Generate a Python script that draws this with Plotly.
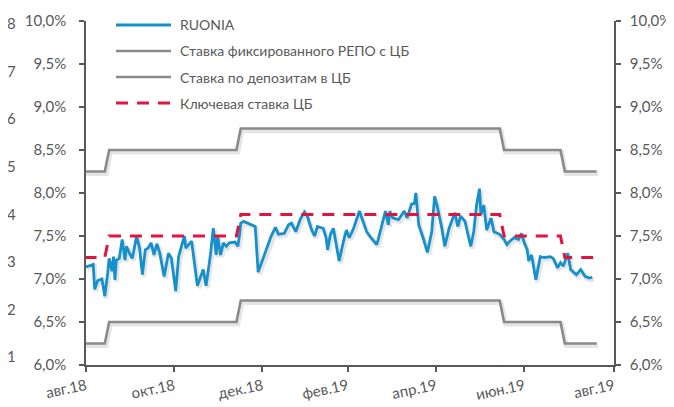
import pandas as pd
import plotly.graph_objects as go

# ---------------- data ----------------
RUONIA_DATES = [
    "2018-09-01", "2018-09-06", "2018-09-07", "2018-09-09", "2018-09-12", "2018-09-14", "2018-09-16",
    "2018-09-17", "2018-09-19", "2018-09-20", "2018-09-21", "2018-09-22", "2018-09-24", "2018-09-26",
    "2018-09-28", "2018-09-29", "2018-10-01", "2018-10-03", "2018-10-06", "2018-10-08", "2018-10-10",
    "2018-10-12", "2018-10-14", "2018-10-16", "2018-10-18", "2018-10-20", "2018-10-22", "2018-10-25",
    "2018-10-28", "2018-10-30", "2018-11-02", "2018-11-04", "2018-11-08", "2018-11-09", "2018-11-13",
    "2018-11-17", "2018-11-21", "2018-11-23", "2018-11-26", "2018-11-28", "2018-11-30", "2018-12-01",
    "2018-12-03", "2018-12-05", "2018-12-07", "2018-12-09", "2018-12-13", "2018-12-15", "2018-12-16",
    "2018-12-17", "2018-12-19", "2018-12-24", "2018-12-27", "2018-12-29", "2019-01-03", "2019-01-07",
    "2019-01-10", "2019-01-12", "2019-01-16", "2019-01-19", "2019-01-21", "2019-01-24", "2019-01-27",
    "2019-01-30", "2019-02-01", "2019-02-04", "2019-02-06", "2019-02-08", "2019-02-12", "2019-02-14",
    "2019-02-15", "2019-02-17", "2019-02-19", "2019-02-23", "2019-02-26", "2019-02-28", "2019-03-02",
    "2019-03-05", "2019-03-09", "2019-03-11", "2019-03-14", "2019-03-17", "2019-03-21", "2019-03-22",
    "2019-03-25", "2019-03-27", "2019-03-29", "2019-03-30", "2019-04-01", "2019-04-05", "2019-04-09",
    "2019-04-11", "2019-04-14", "2019-04-16", "2019-04-17", "2019-04-19", "2019-04-22", "2019-04-25",
    "2019-04-28", "2019-04-30", "2019-05-02", "2019-05-05", "2019-05-07", "2019-05-10", "2019-05-14",
    "2019-05-16", "2019-05-18", "2019-05-21", "2019-05-23", "2019-05-25", "2019-05-27", "2019-05-29",
    "2019-05-31", "2019-06-01", "2019-06-03", "2019-06-05", "2019-06-08", "2019-06-10", "2019-06-14",
    "2019-06-17", "2019-06-19", "2019-06-21", "2019-06-24", "2019-06-27", "2019-06-29", "2019-07-01",
    "2019-07-03", "2019-07-04", "2019-07-06", "2019-07-09", "2019-07-12", "2019-07-15", "2019-07-19",
    "2019-07-21", "2019-07-24", "2019-07-26", "2019-07-28", "2019-07-31", "2019-08-02", "2019-08-06",
    "2019-08-09", "2019-08-12", "2019-08-15", "2019-08-17",
]
RUONIA_VALUES = [
    7.14, 7.17, 6.88, 6.98, 7.00, 6.80, 7.07,
    7.24, 7.09, 7.26, 6.99, 7.22, 7.24, 7.46,
    7.22, 7.38, 7.30, 7.24, 7.50, 7.36, 7.05,
    7.34, 7.36, 7.42, 7.28, 7.41, 7.30, 7.03,
    7.30, 7.24, 6.86, 7.26, 7.50, 7.36, 7.44,
    6.92, 7.11, 6.92, 7.28, 7.59, 7.28, 7.50,
    7.28, 7.42, 7.38, 7.42, 7.43, 7.38, 7.50,
    7.65, 7.67, 7.63, 7.61, 7.08, 7.30, 7.50,
    7.60, 7.52, 7.53, 7.63, 7.65, 7.55, 7.69,
    7.78, 7.73, 7.57, 7.50, 7.61, 7.59, 7.48,
    7.34, 7.52, 7.59, 7.21, 7.44, 7.57, 7.48,
    7.59, 7.79, 7.69, 7.55, 7.48, 7.40, 7.46,
    7.67, 7.79, 7.63, 7.79, 7.71, 7.69, 7.79,
    7.71, 7.87, 7.88, 8.00, 7.63, 7.48, 7.31,
    7.55, 7.96, 7.83, 7.59, 7.38, 7.59, 7.77,
    7.61, 7.73, 7.67, 7.52, 7.38, 7.55, 7.86,
    8.05, 7.75, 7.86, 7.57, 7.71, 7.55, 7.52,
    7.46, 7.40, 7.44, 7.48, 7.46, 7.53, 7.42,
    7.34, 7.21, 7.28, 6.99, 7.26, 7.25, 7.26,
    7.24, 7.13, 7.19, 7.15, 7.30, 7.11, 7.05,
    7.11, 7.03, 7.01, 7.02,
]

# policy-rate schedule (effective dates of changes)
RATE_CHANGE_DATES = ["2018-07-30", "2018-09-17", "2018-12-17", "2019-06-17", "2019-07-29"]
KEY_RATE = [7.25, 7.50, 7.75, 7.50, 7.25]
REPO_RATE = [8.25, 8.50, 8.75, 8.50, 8.25]
DEPOSIT_RATE = [6.25, 6.50, 6.75, 6.50, 6.25]
RATES_START, RATES_END = "2018-08-31", "2019-08-20"

TICK_DATES = ["2018-09-01", "2018-11-01", "2019-01-01", "2019-03-01", "2019-05-01", "2019-07-01", "2019-09-01"]
TICK_LABELS = ["авг.18", "окт.18", "дек.18", "фев.19", "апр.19", "июн.19", "авг.19"]
X_RANGE = ["2018-09-01", "2019-09-01"]
Y_RANGE = [6.0, 10.0]

NAMES = ["RUONIA", "Ставка фиксированного РЕПО с ЦБ", "Ставка по депозитам в ЦБ", "Ключевая ставка ЦБ"]

CUT_LABELS = ["8", "7", "6", "5", "4", "3", "2", "1"]
CUT_LABEL_POS = [0.994, 0.855, 0.717, 0.579, 0.440, 0.302, 0.164, 0.026]

# ---------------- build step series on business days ----------------
bdays = pd.bdate_range(RATES_START, RATES_END)
sched = pd.DataFrame({"date": pd.to_datetime(RATE_CHANGE_DATES), "key": KEY_RATE,
                      "repo": REPO_RATE, "dep": DEPOSIT_RATE})
steps = pd.merge_asof(pd.DataFrame({"date": bdays}), sched, on="date")

SERIES_X = [pd.to_datetime(RUONIA_DATES), steps["date"], steps["date"], steps["date"]]
SERIES_Y = [RUONIA_VALUES, steps["repo"], steps["dep"], steps["key"]]

BLUE = "#1690CD"
RED = "#E0143C"
GRAY = "#8A8A8A"
AXIS = "#595959"
FONT = "Lato"
FS = 15
LEG_FS = 14

STYLES = [dict(color=BLUE, width=2.8), dict(color=GRAY, width=2.6),
          dict(color=GRAY, width=2.6), dict(color=RED, width=3, dash="12px,9px")]

# soft drop shadow (drawn on a hidden, slightly offset pair of axes)
SHADOW_X_RANGE = ["2018-08-31", "2019-08-31"]
SHADOW_Y_RANGE = [6.025, 10.025]
SHADOW_LINE = dict(color="rgba(0,0,0,0.10)", width=4.5)

fig = go.Figure()
for i, (sx, sy) in enumerate(zip(SERIES_X, SERIES_Y)):
    if i == 3:
        continue
    fig.add_trace(go.Scatter(x=sx, y=sy, mode="lines", line=SHADOW_LINE, hoverinfo="skip",
                             showlegend=False, xaxis="x", yaxis="y"))
for i, (sx, sy) in enumerate(zip(SERIES_X, SERIES_Y)):
    fig.add_trace(go.Scatter(x=sx, y=sy, mode="lines", name=NAMES[i], line=STYLES[i],
                             showlegend=False, xaxis="x2", yaxis="y3" if i == 2 else "y2"))

axis_common = dict(range=Y_RANGE, dtick=0.5, tickformat=".1f", ticksuffix="%", showgrid=False,
                   zeroline=False, showline=True, linecolor=AXIS, linewidth=1.5, ticks="outside",
                   ticklen=5, tickcolor=AXIS, tickwidth=1.5, automargin=False,
                   tickfont=dict(family=FONT, size=FS, color=AXIS))

fig.update_layout(
    width=674, height=407,
    margin=dict(l=78, r=68, t=13, b=50),
    paper_bgcolor="white", plot_bgcolor="white",
    separators=", ",
    showlegend=False,
    xaxis=dict(type="date", range=SHADOW_X_RANGE, visible=False, automargin=False),
    yaxis=dict(range=SHADOW_Y_RANGE, visible=False, automargin=False),
    xaxis2=dict(type="date", range=X_RANGE, tickvals=TICK_DATES, ticktext=TICK_LABELS,
                overlaying="x", anchor="y2", side="bottom",
                tickangle=-12, showgrid=False, zeroline=False, showline=True, linecolor=AXIS,
                linewidth=1.5, ticks="outside", ticklen=5, tickcolor=AXIS, tickwidth=1.5,
                automargin=False, tickfont=dict(family=FONT, size=FS, color=AXIS)),
    yaxis2=dict(**axis_common, side="left", overlaying="y", anchor="x2", ticklabelstandoff=10),
    yaxis3=dict(**axis_common, side="right", overlaying="y", anchor="x2", ticklabelstandoff=6),
)

# legend drawn inside the plot area (top-left), like the original
LEG_X0, LEG_X1, LEG_TX = 0.0568, 0.161, 0.1742
LEG_Y = [0.9884, 0.9128, 0.8372, 0.7616]
for name, style, ly in zip(NAMES, STYLES, LEG_Y):
    fig.add_shape(type="line", xref="paper", yref="paper", x0=LEG_X0, x1=LEG_X1, y0=ly, y1=ly,
                  line=style)
    fig.add_annotation(text=name, xref="paper", yref="paper", x=LEG_TX, y=ly, xanchor="left",
                       yanchor="middle", showarrow=False,
                       font=dict(family=FONT, size=LEG_FS, color=AXIS))

for lab, pos in zip(CUT_LABELS, CUT_LABEL_POS):
    fig.add_annotation(text=lab, xref="paper", yref="paper", x=-0.1307, y=pos, xanchor="right",
                       yanchor="middle", showarrow=False, borderpad=0,
                       font=dict(family=FONT, size=FS, color=AXIS))

fig.write_html("out.html")
